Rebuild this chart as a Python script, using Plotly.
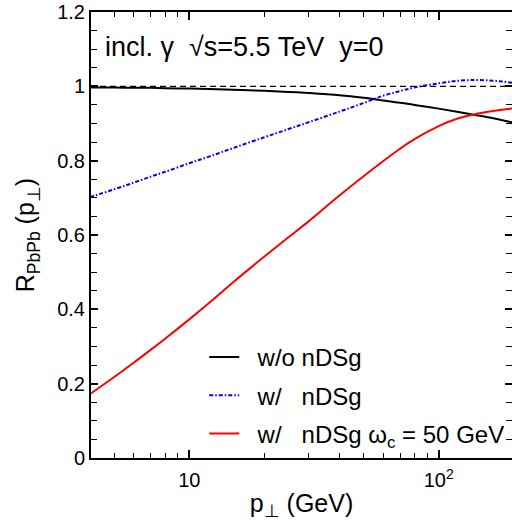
import plotly.graph_objects as go

# ---- data ----
pt = [4, 5, 6, 7, 8, 10, 12, 15, 20, 25, 30, 40, 50, 60, 70, 80, 100, 120, 140, 160, 180, 200]
r_wo_ndsg = [0.997, 0.997, 0.996, 0.996, 0.995, 0.994, 0.993, 0.991, 0.988, 0.985, 0.982, 0.976,
             0.969, 0.962, 0.956, 0.950, 0.940, 0.931, 0.923, 0.916, 0.909, 0.902]
r_w_ndsg = [0.702, 0.723, 0.741, 0.757, 0.770, 0.793, 0.811, 0.834, 0.863, 0.885, 0.903, 0.932,
            0.955, 0.975, 0.987, 0.997, 1.008, 1.015, 1.017, 1.016, 1.013, 1.009]
r_w_ndsg_wc = [0.172, 0.218, 0.257, 0.291, 0.321, 0.373, 0.417, 0.473, 0.542, 0.594, 0.636, 0.706,
               0.758, 0.799, 0.832, 0.858, 0.893, 0.914, 0.925, 0.932, 0.937, 0.941]
ref_x = [4, 200]
ref_y = [1.0, 1.0]

names = ["  w/o nDSg", "  w/   nDSg", "  w/   nDSg ω<sub>c</sub> = 50 GeV"]
y_ticks = [0, 0.2, 0.4, 0.6, 0.8, 1.0, 1.2]
y_ticktext = ["0", "0.2", "0.4", "0.6", "0.8", "1", "1.2"]
x_ticks = [10, 100]
x_ticktext = ["10", "10<sup>2</sup>"]
x_minor = [5, 6, 7, 8, 9, 20, 30, 40, 50, 60, 70, 80, 90, 200]

FONT = "Liberation Sans, Arial, Helvetica, sans-serif"

fig = go.Figure()
fig.add_trace(go.Scatter(x=ref_x, y=ref_y, mode="lines", showlegend=False,
                         line=dict(color="black", width=1.3, dash="6px,4px")))
fig.add_trace(go.Scatter(x=pt, y=r_wo_ndsg, mode="lines", name=names[0], legendgroup="a",
                         line=dict(color="black", width=2, shape="spline")))
fig.add_trace(go.Scatter(x=pt, y=r_w_ndsg, mode="lines", name=names[1], legendgroup="b",
                         line=dict(color="#0000ff", width=2, dash="4px,2px,1.5px,2px", shape="spline")))
fig.add_trace(go.Scatter(x=pt, y=r_w_ndsg_wc, mode="lines", name=names[2], legendgroup="c",
                         line=dict(color="#ff0000", width=2, shape="spline")))

fig.update_layout(
    width=512, height=523,
    margin=dict(l=91, r=0, t=12, b=65, autoexpand=False),
    paper_bgcolor="white", plot_bgcolor="white",
    font=dict(family=FONT, size=20, color="black"),
    showlegend=True,
    legend=dict(x=0.269, y=0.276, xanchor="left", yanchor="top",
                bgcolor="rgba(0,0,0,0)", font=dict(size=24), tracegroupgap=4),
    annotations=[dict(text="incl. γ  √s=5.5 TeV  y=0", x=0.0286, y=0.9215,
                      xref="paper", yref="paper", xanchor="left", yanchor="middle",
                      showarrow=False, font=dict(size=27))],
)
fig.update_xaxes(type="log", range=[0.606, 2.294], automargin=False,
                 tickmode="array", tickvals=x_ticks, ticktext=x_ticktext,
                 ticks="inside", ticklen=8, tickwidth=1.5, tickcolor="black",
                 ticklabelstandoff=3, ticklabeloverflow="allow",
                 minor=dict(tickmode="array", tickvals=x_minor, ticks="inside", ticklen=5,
                            tickwidth=1.2, tickcolor="black", showgrid=False),
                 showline=True, linewidth=2, linecolor="black", mirror="ticks",
                 showgrid=False, zeroline=False,
                 title=dict(text="p<sub>⊥</sub> (GeV)", font=dict(size=25), standoff=4))
fig.update_yaxes(range=[0, 1.2], automargin=False,
                 tickmode="array", tickvals=y_ticks, ticktext=y_ticktext,
                 ticks="inside", ticklen=7, tickwidth=1.5, tickcolor="black",
                 ticklabeloverflow="allow",
                 minor=dict(dtick=0.05, ticks="inside", ticklen=6, tickwidth=1.2,
                            tickcolor="black", showgrid=False),
                 showline=True, linewidth=2, linecolor="black", mirror="ticks",
                 showgrid=False, zeroline=False,
                 title=dict(text="R<sub>PbPb</sub> (p<sub>⊥</sub>)", font=dict(size=25), standoff=15))

fig.write_html("out.html", config={"displayModeBar": False},
               post_script="document.body.style.margin='0';document.body.style.overflow='hidden';")
